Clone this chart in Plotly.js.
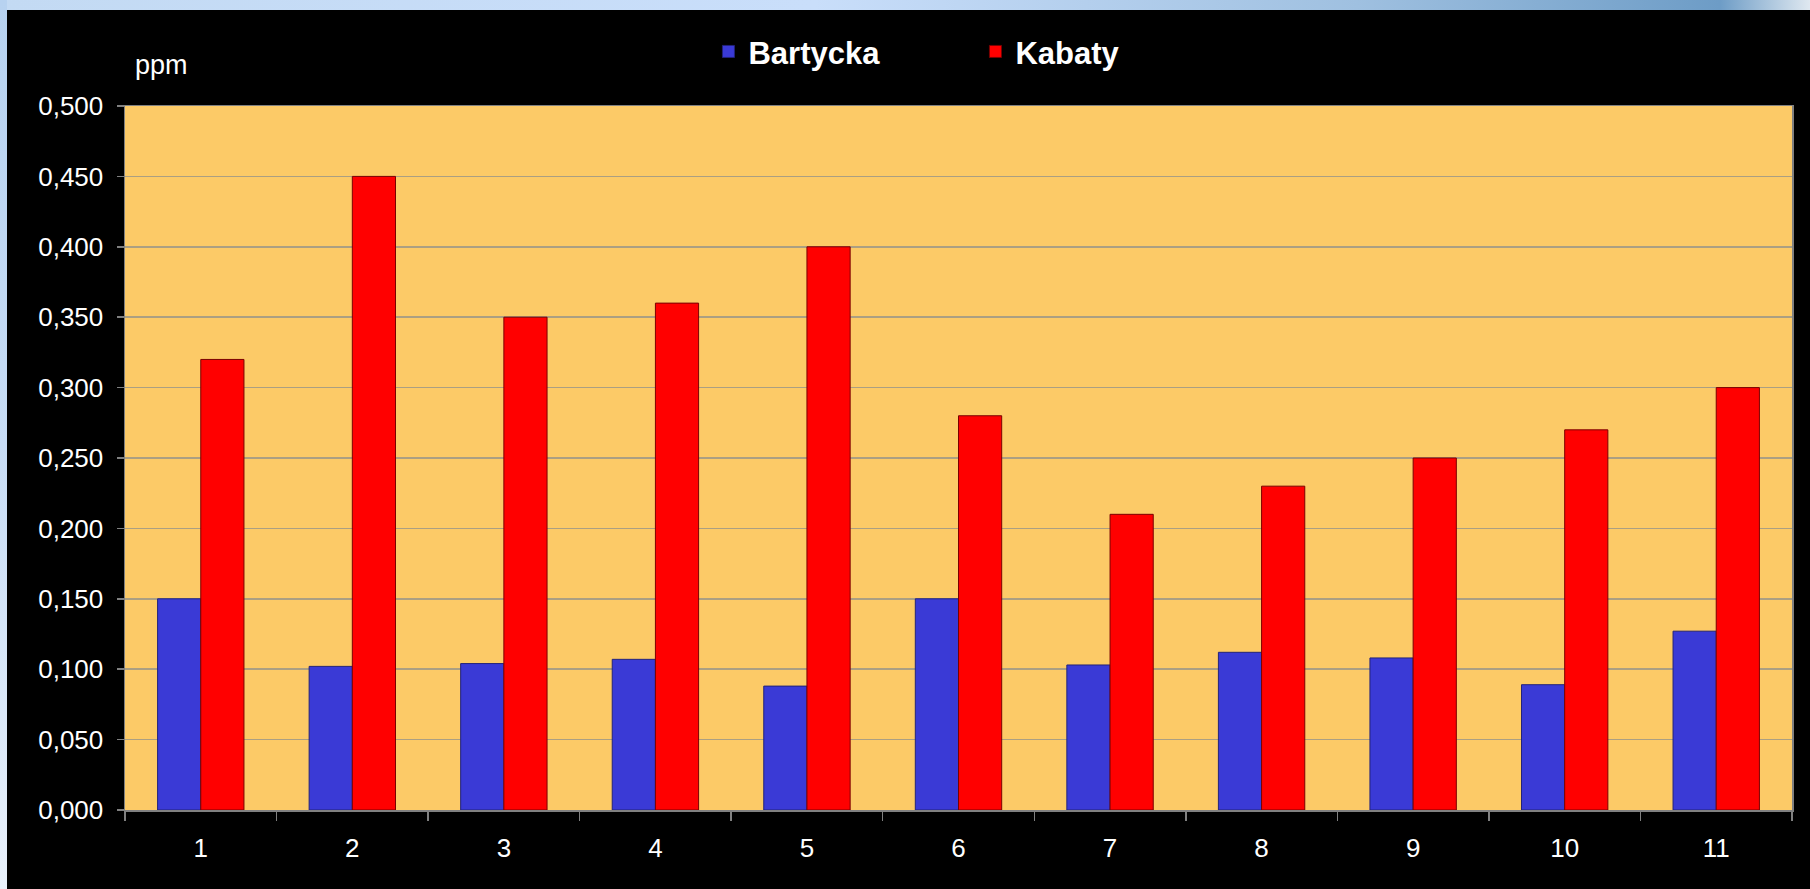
<!DOCTYPE html>
<html>
<head>
<meta charset="utf-8">
<script src="https://cdn.plot.ly/plotly-3.0.1.min.js"></script>
<style>
  html, body { margin: 0; padding: 0; width: 1810px; height: 889px; overflow: hidden; background: #000; }
  #topstrip { position: absolute; left: 0; top: 0; width: 1810px; height: 10px;
    background: linear-gradient(to right, #c3daf3 0%, #c9defa 45%, #9fc0e0 75%, #6d9cc6 95%, #dfe8f0 100%); }
  #leftstrip { position: absolute; left: 0; top: 0; width: 7px; height: 889px;
    background: linear-gradient(to bottom, #b7d2f0 0%, #c8ddf6 50%, #e9f1fb 100%); }
  #chart { position: absolute; left: 7px; top: 10px; width: 1803px; height: 879px; }
</style>
</head>
<body>
<div id="topstrip"></div>
<div id="leftstrip"></div>
<div id="chart"></div>
<script>
const categories = ['1','2','3','4','5','6','7','8','9','10','11'];
const bartycka = [0.150, 0.102, 0.104, 0.107, 0.088, 0.150, 0.103, 0.112, 0.108, 0.089, 0.127];
const kabaty   = [0.320, 0.450, 0.350, 0.360, 0.400, 0.280, 0.210, 0.230, 0.250, 0.270, 0.300];
const seriesNames = ['Bartycka', 'Kabaty'];
const yTickVals = [0, 0.05, 0.1, 0.15, 0.2, 0.25, 0.3, 0.35, 0.4, 0.45, 0.5];

const font = '"Liberation Sans", Arial, sans-serif';

const traces = [
  { type: 'bar', name: seriesNames[0], x: categories, y: bartycka,
    marker: { color: '#3a3ad6', line: { color: '#23237a', width: 1 } } },
  { type: 'bar', name: seriesNames[1], x: categories, y: kabaty,
    marker: { color: '#ff0000', line: { color: '#7a0000', width: 1 } } }
];

const layout = {
  width: 1803, height: 879,
  paper_bgcolor: '#000000',
  plot_bgcolor: '#fcca67',
  separators: ', ',
  margin: { l: 118, r: 18, t: 96, b: 79, pad: 0 },
  barmode: 'group',
  bargap: 0.43,
  bargroupgap: 0,
  font: { family: font, color: '#ffffff', size: 26 },
  showlegend: true,
  legend: {
    orientation: 'h', x: 0.35, y: 1.077, xanchor: 'left', yanchor: 'middle',
    yref: 'paper', bgcolor: 'rgba(0,0,0,0)',
    font: { family: font, size: 31, color: '#ffffff', weight: 'bold' },
    entrywidth: 222, entrywidthmode: 'pixels',
    traceorder: 'normal'
  },
  xaxis: {
    type: 'category',
    tickson: 'boundaries',
    ticks: 'outside', ticklen: 9, tickcolor: '#808080', tickwidth: 1.5,
    showline: true, linecolor: '#808080', linewidth: 1.5, mirror: true,
    showgrid: false, zeroline: false,
    tickfont: { family: font, size: 26, color: '#ffffff' },
    ticklabelstandoff: 14,
    fixedrange: true
  },
  yaxis: {
    range: [0, 0.5],
    tickvals: yTickVals,
    tickformat: '.3f',
    ticks: 'outside', ticklen: 7, tickcolor: '#808080', tickwidth: 1.5,
    showline: true, linecolor: '#808080', linewidth: 1.5, mirror: true,
    showgrid: true, gridcolor: '#ab9f82', gridwidth: 1.5,
    zeroline: false,
    tickfont: { family: font, size: 26, color: '#ffffff' },
    ticklabelstandoff: 8,
    fixedrange: true
  },
  annotations: [
    { text: 'ppm', xref: 'paper', yref: 'paper', x: 0.005, y: 1.0, xanchor: 'left', yanchor: 'bottom',
      yshift: 24, showarrow: false, font: { family: font, size: 27, color: '#ffffff' } }
  ]
};

Plotly.newPlot('chart', traces, layout, { displayModeBar: false, staticPlot: true });
</script>
</body>
</html>
